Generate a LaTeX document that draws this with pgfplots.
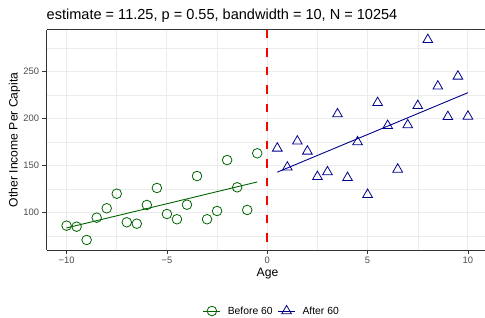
\documentclass[border=0pt]{standalone}
\usepackage{pgfplots}
\pgfplotsset{compat=1.18}
\usepackage{fontspec}
\setmainfont{Liberation Sans}
\definecolor{gridc}{gray}{0.92}
\definecolor{frame}{gray}{0.2}
\definecolor{ticklab}{gray}{0.3}
\definecolor{dgreen}{HTML}{006400}
\definecolor{dblue}{HTML}{00008B}
\begin{document}
\begin{tikzpicture}
\path[use as bounding box] (0,0) rectangle (485bp,318bp);
\begin{axis}[
  at={(46.5bp,68bp)}, anchor=south west,
  scale only axis, width=438.5bp, height=220.3bp,
  xmin=-11, xmax=10.85, ymin=60.3, ymax=294.7,
  axis x line*=box, axis y line*=left,
  axis line style={frame, line width=0.9bp},
  xtick={-10,-5,0,5,10},
  xticklabels={−10,−5,0,5,10},
  ytick={100,150,200,250},
  minor xtick={-7.5,-2.5,2.5,7.5},
  minor ytick={75,125,175,225,275},
  xtick pos=left, ytick pos=left,
  tick align=outside,
  major tick length=4bp, minor tick length=0pt,
  tick style={frame, line width=0.8bp},
  grid=both,
  major grid style={gridc, line width=1bp},
  minor grid style={gridc, line width=0.5bp},
  /pgf/number format/assume math mode=true,
  ticklabel style={font=\fontsize{9.4}{11}\selectfont, text=ticklab},
  xticklabel style={yshift=0.5bp},
  xlabel={Age}, ylabel={Other Income Per Capita},
  label style={font=\fontsize{12.2}{14}\selectfont},
  x label style={at={(axis description cs:0.504,0)}, anchor=north, yshift=-15bp},
  y label style={at={(axis description cs:-0.073,0.5)}, anchor=center},
  title={estimate = 11.25, p = 0.55, bandwidth = 10, N = 10254},
  title style={font=\fontsize{14.6}{17}\selectfont, at={(axis description cs:0,1)}, anchor=south west, inner xsep=0pt, yshift=-2bp},
  legend columns=2,
  legend style={draw=none, fill=none, font=\fontsize{10.4}{12}\selectfont,
    at={(axis description cs:0.514,-0.277)}, anchor=center,
    /tikz/every odd column/.append style={column sep=5bp},
    /tikz/every even column/.append style={column sep=3bp}},
  legend image post style={sharp plot},
]
\addplot[dgreen, only marks, mark=o, mark size=4.8bp, mark options={line width=0.8bp}, line width=0.8bp] coordinates {
(-10,86.2) (-9.5,85.1) (-9,71) (-8.5,94.7) (-8,104.7) (-7.5,120.2) (-7,89.8) (-6.5,88.3)
(-6,108.2) (-5.5,126.3) (-5,98.6) (-4.5,93) (-4,108.5) (-3.5,139) (-3,93) (-2.5,101.8)
(-2,156) (-1.5,127) (-1,102.9) (-0.5,163.2)};
\addlegendentry{Before 60}
\addplot[dblue, only marks, mark=triangle, mark size=5.6bp, mark options={line width=0.8bp}, line width=0.8bp] coordinates {
(0.5,168.5) (1,148.3) (1.5,176) (2,165.3) (2.5,138.3) (3,143.3) (3.5,205) (4,137.2)
(4.5,175.2) (5,119.2) (5.5,217) (6,192.6) (6.5,146.1) (7,193.3) (7.5,213.8) (8,284)
(8.5,234.5) (9,202.1) (9.5,245.1) (10,202.5)};
\addlegendentry{After 60}
\addplot[dgreen, line width=0.9bp, forget plot] coordinates {(-10,83.8) (-0.5,132.7)};
\addplot[dblue, line width=0.9bp, forget plot] coordinates {(0.5,143.1) (10,227.7)};
\addplot[red, line width=2.4bp, dash pattern=on 8.5bp off 10bp, forget plot] coordinates {(0,294.7) (0,60.3)};
\end{axis}
\end{tikzpicture}
\end{document}
